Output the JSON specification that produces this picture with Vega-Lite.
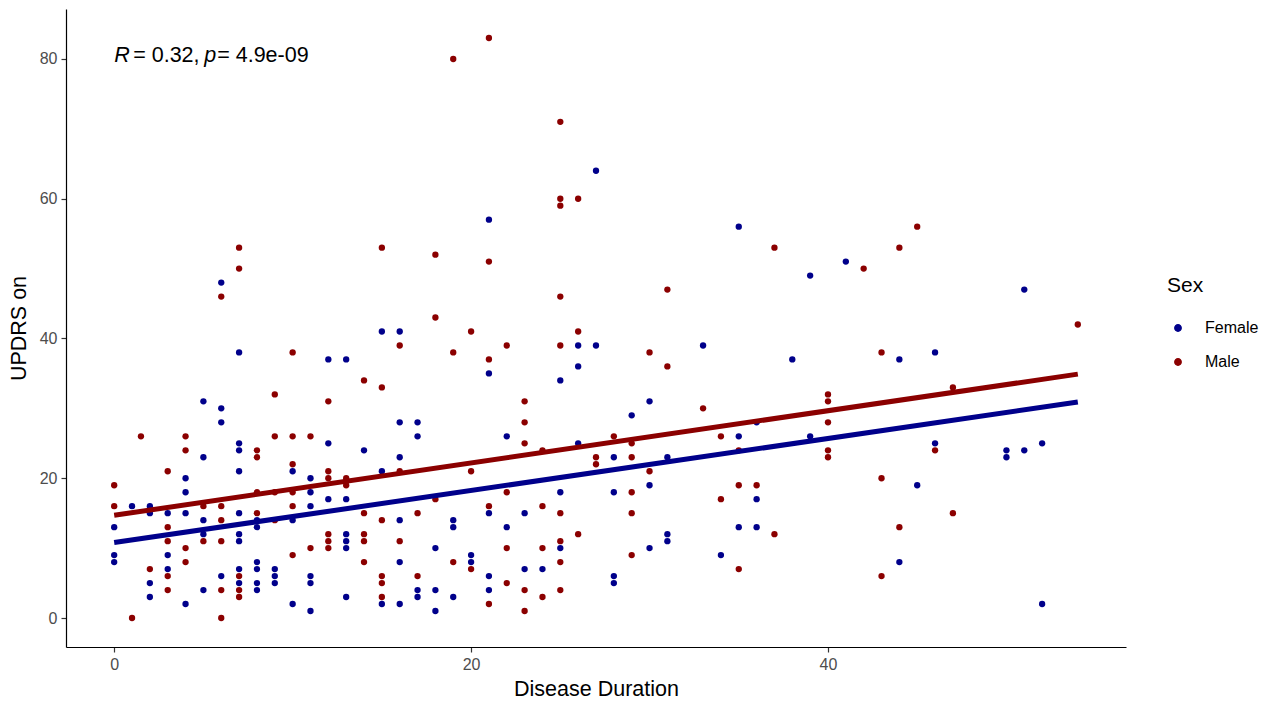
{
  "$schema": "https://vega.github.io/schema/vega-lite/v6.json",
  "width": 1060,
  "height": 638,
  "autosize": {"type": "none"},
  "padding": {"left": 66, "top": 9, "right": 151, "bottom": 56},
  "background": "white",
  "config": {
    "view": {"stroke": null},
    "font": "Liberation Sans",
    "axis": {
      "grid": false,
      "domainColor": "black",
      "domainWidth": 1.2,
      "tickColor": "#333333",
      "tickSize": 5,
      "tickWidth": 1.2,
      "labelColor": "#4D4D4D",
      "labelFontSize": 16,
      "labelFont": "Liberation Sans",
      "titleFont": "Liberation Sans",
      "titleFontSize": 21.5,
      "titleFontWeight": "normal",
      "titleColor": "black"
    }
  },
  "datasets": {
    "pts": [
      {"duration":0,"updrs":19,"sex":"Male"},{"duration":0,"updrs":16,"sex":"Male"},{"duration":0,"updrs":13,"sex":"Female"},{"duration":0,"updrs":9,"sex":"Female"},{"duration":0,"updrs":8,"sex":"Female"},
      {"duration":1,"updrs":16,"sex":"Female"},{"duration":1,"updrs":0,"sex":"Male"},{"duration":1.5,"updrs":26,"sex":"Male"},
      {"duration":2,"updrs":16,"sex":"Female"},{"duration":2,"updrs":15,"sex":"Female"},{"duration":2,"updrs":7,"sex":"Male"},{"duration":2,"updrs":5,"sex":"Female"},{"duration":2,"updrs":3,"sex":"Female"},
      {"duration":3,"updrs":21,"sex":"Male"},{"duration":3,"updrs":15,"sex":"Female"},{"duration":3,"updrs":13,"sex":"Male"},{"duration":3,"updrs":11,"sex":"Male"},{"duration":3,"updrs":9,"sex":"Female"},{"duration":3,"updrs":7,"sex":"Female"},{"duration":3,"updrs":6,"sex":"Male"},{"duration":3,"updrs":4,"sex":"Male"},
      {"duration":4,"updrs":26,"sex":"Male"},{"duration":4,"updrs":24,"sex":"Male"},{"duration":4,"updrs":20,"sex":"Female"},{"duration":4,"updrs":18,"sex":"Female"},{"duration":4,"updrs":15,"sex":"Female"},{"duration":4,"updrs":10,"sex":"Male"},{"duration":4,"updrs":8,"sex":"Male"},{"duration":4,"updrs":2,"sex":"Female"},
      {"duration":5,"updrs":31,"sex":"Female"},{"duration":5,"updrs":23,"sex":"Female"},{"duration":5,"updrs":16,"sex":"Male"},{"duration":5,"updrs":14,"sex":"Female"},{"duration":5,"updrs":12,"sex":"Female"},{"duration":5,"updrs":11,"sex":"Male"},{"duration":5,"updrs":4,"sex":"Female"},
      {"duration":6,"updrs":48,"sex":"Female"},{"duration":6,"updrs":46,"sex":"Male"},{"duration":6,"updrs":30,"sex":"Female"},{"duration":6,"updrs":28,"sex":"Female"},{"duration":6,"updrs":16,"sex":"Male"},{"duration":6,"updrs":14,"sex":"Male"},{"duration":6,"updrs":11,"sex":"Male"},{"duration":6,"updrs":6,"sex":"Female"},{"duration":6,"updrs":4,"sex":"Male"},{"duration":6,"updrs":0,"sex":"Male"},
      {"duration":7,"updrs":53,"sex":"Male"},{"duration":7,"updrs":50,"sex":"Male"},{"duration":7,"updrs":38,"sex":"Female"},{"duration":7,"updrs":25,"sex":"Female"},{"duration":7,"updrs":24,"sex":"Female"},{"duration":7,"updrs":21,"sex":"Female"},{"duration":7,"updrs":15,"sex":"Female"},{"duration":7,"updrs":12,"sex":"Female"},{"duration":7,"updrs":11,"sex":"Female"},{"duration":7,"updrs":7,"sex":"Female"},{"duration":7,"updrs":6,"sex":"Male"},{"duration":7,"updrs":5,"sex":"Female"},{"duration":7,"updrs":4,"sex":"Male"},{"duration":7,"updrs":3,"sex":"Male"},
      {"duration":8,"updrs":24,"sex":"Male"},{"duration":8,"updrs":23,"sex":"Male"},{"duration":8,"updrs":18,"sex":"Male"},{"duration":8,"updrs":15,"sex":"Male"},{"duration":8,"updrs":14,"sex":"Female"},{"duration":8,"updrs":13,"sex":"Female"},{"duration":8,"updrs":8,"sex":"Female"},{"duration":8,"updrs":7,"sex":"Female"},{"duration":8,"updrs":5,"sex":"Female"},{"duration":8,"updrs":4,"sex":"Female"},
      {"duration":9,"updrs":32,"sex":"Male"},{"duration":9,"updrs":26,"sex":"Male"},{"duration":9,"updrs":18,"sex":"Male"},{"duration":9,"updrs":14,"sex":"Male"},{"duration":9,"updrs":7,"sex":"Female"},{"duration":9,"updrs":6,"sex":"Female"},{"duration":9,"updrs":5,"sex":"Female"},
      {"duration":10,"updrs":38,"sex":"Male"},{"duration":10,"updrs":26,"sex":"Male"},{"duration":10,"updrs":22,"sex":"Male"},{"duration":10,"updrs":21,"sex":"Female"},{"duration":10,"updrs":18,"sex":"Male"},{"duration":10,"updrs":16,"sex":"Male"},{"duration":10,"updrs":14,"sex":"Female"},{"duration":10,"updrs":9,"sex":"Male"},{"duration":10,"updrs":2,"sex":"Female"},
      {"duration":11,"updrs":26,"sex":"Male"},{"duration":11,"updrs":20,"sex":"Female"},{"duration":11,"updrs":18,"sex":"Female"},{"duration":11,"updrs":16,"sex":"Female"},{"duration":11,"updrs":10,"sex":"Male"},{"duration":11,"updrs":6,"sex":"Female"},{"duration":11,"updrs":5,"sex":"Female"},{"duration":11,"updrs":1,"sex":"Female"},
      {"duration":12,"updrs":37,"sex":"Female"},{"duration":12,"updrs":31,"sex":"Male"},{"duration":12,"updrs":25,"sex":"Female"},{"duration":12,"updrs":21,"sex":"Male"},{"duration":12,"updrs":20,"sex":"Male"},{"duration":12,"updrs":17,"sex":"Female"},{"duration":12,"updrs":12,"sex":"Male"},{"duration":12,"updrs":11,"sex":"Male"},{"duration":12,"updrs":10,"sex":"Male"},
      {"duration":13,"updrs":37,"sex":"Female"},{"duration":13,"updrs":20,"sex":"Male"},{"duration":13,"updrs":19,"sex":"Male"},{"duration":13,"updrs":17,"sex":"Female"},{"duration":13,"updrs":12,"sex":"Female"},{"duration":13,"updrs":11,"sex":"Female"},{"duration":13,"updrs":10,"sex":"Female"},{"duration":13,"updrs":3,"sex":"Female"},
      {"duration":14,"updrs":34,"sex":"Male"},{"duration":14,"updrs":24,"sex":"Female"},{"duration":14,"updrs":15,"sex":"Male"},{"duration":14,"updrs":12,"sex":"Male"},{"duration":14,"updrs":11,"sex":"Male"},{"duration":14,"updrs":8,"sex":"Male"},
      {"duration":15,"updrs":53,"sex":"Male"},{"duration":15,"updrs":41,"sex":"Female"},{"duration":15,"updrs":33,"sex":"Male"},{"duration":15,"updrs":21,"sex":"Female"},{"duration":15,"updrs":14,"sex":"Male"},{"duration":15,"updrs":6,"sex":"Male"},{"duration":15,"updrs":5,"sex":"Male"},{"duration":15,"updrs":3,"sex":"Male"},{"duration":15,"updrs":2,"sex":"Female"},
      {"duration":16,"updrs":41,"sex":"Female"},{"duration":16,"updrs":39,"sex":"Male"},{"duration":16,"updrs":28,"sex":"Female"},{"duration":16,"updrs":23,"sex":"Female"},{"duration":16,"updrs":21,"sex":"Male"},{"duration":16,"updrs":14,"sex":"Female"},{"duration":16,"updrs":11,"sex":"Male"},{"duration":16,"updrs":8,"sex":"Female"},{"duration":16,"updrs":2,"sex":"Female"},
      {"duration":17,"updrs":28,"sex":"Female"},{"duration":17,"updrs":26,"sex":"Female"},{"duration":17,"updrs":15,"sex":"Male"},{"duration":17,"updrs":6,"sex":"Male"},{"duration":17,"updrs":4,"sex":"Female"},{"duration":17,"updrs":3,"sex":"Female"},
      {"duration":18,"updrs":52,"sex":"Male"},{"duration":18,"updrs":43,"sex":"Male"},{"duration":18,"updrs":17,"sex":"Male"},{"duration":18,"updrs":10,"sex":"Female"},{"duration":18,"updrs":4,"sex":"Female"},{"duration":18,"updrs":1,"sex":"Female"},
      {"duration":19,"updrs":80,"sex":"Male"},{"duration":19,"updrs":38,"sex":"Male"},{"duration":19,"updrs":14,"sex":"Female"},{"duration":19,"updrs":13,"sex":"Female"},{"duration":19,"updrs":8,"sex":"Male"},{"duration":19,"updrs":3,"sex":"Female"},
      {"duration":20,"updrs":41,"sex":"Male"},{"duration":20,"updrs":21,"sex":"Male"},{"duration":20,"updrs":9,"sex":"Female"},{"duration":20,"updrs":8,"sex":"Female"},{"duration":20,"updrs":7,"sex":"Male"},
      {"duration":21,"updrs":83,"sex":"Male"},{"duration":21,"updrs":57,"sex":"Female"},{"duration":21,"updrs":51,"sex":"Male"},{"duration":21,"updrs":37,"sex":"Male"},{"duration":21,"updrs":35,"sex":"Female"},{"duration":21,"updrs":16,"sex":"Male"},{"duration":21,"updrs":15,"sex":"Female"},{"duration":21,"updrs":6,"sex":"Female"},{"duration":21,"updrs":4,"sex":"Female"},{"duration":21,"updrs":2,"sex":"Male"},
      {"duration":22,"updrs":39,"sex":"Male"},{"duration":22,"updrs":26,"sex":"Female"},{"duration":22,"updrs":18,"sex":"Male"},{"duration":22,"updrs":13,"sex":"Female"},{"duration":22,"updrs":10,"sex":"Male"},{"duration":22,"updrs":5,"sex":"Male"},
      {"duration":23,"updrs":31,"sex":"Male"},{"duration":23,"updrs":28,"sex":"Male"},{"duration":23,"updrs":25,"sex":"Male"},{"duration":23,"updrs":15,"sex":"Female"},{"duration":23,"updrs":7,"sex":"Female"},{"duration":23,"updrs":4,"sex":"Male"},{"duration":23,"updrs":1,"sex":"Male"},
      {"duration":24,"updrs":24,"sex":"Male"},{"duration":24,"updrs":16,"sex":"Male"},{"duration":24,"updrs":10,"sex":"Male"},{"duration":24,"updrs":7,"sex":"Female"},{"duration":24,"updrs":3,"sex":"Male"},
      {"duration":25,"updrs":71,"sex":"Male"},{"duration":25,"updrs":60,"sex":"Male"},{"duration":25,"updrs":59,"sex":"Male"},{"duration":25,"updrs":46,"sex":"Male"},{"duration":25,"updrs":39,"sex":"Male"},{"duration":25,"updrs":34,"sex":"Female"},{"duration":25,"updrs":18,"sex":"Female"},{"duration":25,"updrs":15,"sex":"Male"},{"duration":25,"updrs":11,"sex":"Male"},{"duration":25,"updrs":10,"sex":"Female"},{"duration":25,"updrs":8,"sex":"Male"},{"duration":25,"updrs":4,"sex":"Male"},
      {"duration":26,"updrs":60,"sex":"Male"},{"duration":26,"updrs":41,"sex":"Male"},{"duration":26,"updrs":39,"sex":"Female"},{"duration":26,"updrs":36,"sex":"Female"},{"duration":26,"updrs":25,"sex":"Female"},{"duration":26,"updrs":12,"sex":"Male"},
      {"duration":27,"updrs":64,"sex":"Female"},{"duration":27,"updrs":39,"sex":"Female"},{"duration":27,"updrs":23,"sex":"Male"},{"duration":27,"updrs":22,"sex":"Male"},
      {"duration":28,"updrs":26,"sex":"Male"},{"duration":28,"updrs":23,"sex":"Female"},{"duration":28,"updrs":18,"sex":"Female"},{"duration":28,"updrs":6,"sex":"Female"},{"duration":28,"updrs":5,"sex":"Female"},
      {"duration":29,"updrs":29,"sex":"Female"},{"duration":29,"updrs":25,"sex":"Male"},{"duration":29,"updrs":23,"sex":"Male"},{"duration":29,"updrs":18,"sex":"Male"},{"duration":29,"updrs":15,"sex":"Male"},{"duration":29,"updrs":9,"sex":"Male"},
      {"duration":30,"updrs":38,"sex":"Male"},{"duration":30,"updrs":31,"sex":"Female"},{"duration":30,"updrs":21,"sex":"Male"},{"duration":30,"updrs":19,"sex":"Female"},{"duration":30,"updrs":10,"sex":"Female"},
      {"duration":31,"updrs":47,"sex":"Male"},{"duration":31,"updrs":36,"sex":"Male"},{"duration":31,"updrs":23,"sex":"Female"},{"duration":31,"updrs":12,"sex":"Female"},{"duration":31,"updrs":11,"sex":"Female"},
      {"duration":33,"updrs":39,"sex":"Female"},{"duration":33,"updrs":30,"sex":"Male"},
      {"duration":34,"updrs":26,"sex":"Male"},{"duration":34,"updrs":17,"sex":"Male"},{"duration":34,"updrs":9,"sex":"Female"},
      {"duration":35,"updrs":56,"sex":"Female"},{"duration":35,"updrs":26,"sex":"Female"},{"duration":35,"updrs":24,"sex":"Male"},{"duration":35,"updrs":19,"sex":"Male"},{"duration":35,"updrs":13,"sex":"Female"},{"duration":35,"updrs":7,"sex":"Male"},
      {"duration":36,"updrs":28,"sex":"Female"},{"duration":36,"updrs":19,"sex":"Male"},{"duration":36,"updrs":17,"sex":"Female"},{"duration":36,"updrs":13,"sex":"Female"},
      {"duration":37,"updrs":53,"sex":"Male"},{"duration":37,"updrs":12,"sex":"Male"},
      {"duration":38,"updrs":37,"sex":"Female"},
      {"duration":39,"updrs":49,"sex":"Female"},{"duration":39,"updrs":26,"sex":"Female"},
      {"duration":40,"updrs":32,"sex":"Male"},{"duration":40,"updrs":31,"sex":"Male"},{"duration":40,"updrs":28,"sex":"Male"},{"duration":40,"updrs":24,"sex":"Male"},{"duration":40,"updrs":23,"sex":"Male"},
      {"duration":41,"updrs":51,"sex":"Female"},
      {"duration":42,"updrs":50,"sex":"Male"},
      {"duration":43,"updrs":38,"sex":"Male"},{"duration":43,"updrs":20,"sex":"Male"},{"duration":43,"updrs":6,"sex":"Male"},
      {"duration":44,"updrs":53,"sex":"Male"},{"duration":44,"updrs":37,"sex":"Female"},{"duration":44,"updrs":13,"sex":"Male"},{"duration":44,"updrs":8,"sex":"Female"},
      {"duration":45,"updrs":56,"sex":"Male"},{"duration":45,"updrs":19,"sex":"Female"},
      {"duration":46,"updrs":38,"sex":"Female"},{"duration":46,"updrs":25,"sex":"Female"},{"duration":46,"updrs":24,"sex":"Male"},
      {"duration":47,"updrs":33,"sex":"Male"},{"duration":47,"updrs":15,"sex":"Male"},
      {"duration":50,"updrs":24,"sex":"Female"},{"duration":50,"updrs":23,"sex":"Female"},
      {"duration":51,"updrs":47,"sex":"Female"},{"duration":51,"updrs":24,"sex":"Female"},
      {"duration":52,"updrs":25,"sex":"Female"},{"duration":52,"updrs":2,"sex":"Female"},
      {"duration":54,"updrs":42,"sex":"Male"}
    ],
    "fit": [
      {"duration":0,"updrs":10.8,"sex":"Female"},{"duration":54,"updrs":30.9,"sex":"Female"},
      {"duration":0,"updrs":14.7,"sex":"Male"},{"duration":54,"updrs":34.9,"sex":"Male"}
    ],
    "ann": [{"duration":0,"updrs":80}]
  },
  "layer": [
    {
      "data": {"name": "pts"},
      "mark": {"type": "circle", "size": 40, "opacity": 1},
      "encoding": {
        "x": {"field": "duration", "type": "quantitative", "title": "Disease Duration",
              "scale": {"domain": [-2.7, 56.7], "nice": false, "zero": false},
              "axis": {"values": [0, 20, 40], "labelPadding": 4, "titlePadding": 6, "labelFlush": false}},
        "y": {"field": "updrs", "type": "quantitative", "title": "UPDRS on",
              "scale": {"domain": [-4.15, 87.15], "nice": false, "zero": false},
              "axis": {"values": [0, 20, 40, 60, 80], "labelPadding": 4, "titlePadding": 9, "labelFlush": false}},
        "color": {"field": "sex", "type": "nominal",
                  "scale": {"domain": ["Female", "Male"], "range": ["#00008B", "#8B0000"]},
                  "legend": {"title": "Sex", "orient": "none", "legendX": 1101, "legendY": 266,
                             "symbolType": "circle", "symbolSize": 40, "symbolOffset": 3,
                             "titleFontSize": 21, "titleFontWeight": "normal", "titleColor": "black",
                             "titlePadding": 24, "labelFontSize": 16, "labelColor": "black",
                             "labelOffset": 19, "rowPadding": 18, "titleFont": "Liberation Sans", "labelFont": "Liberation Sans"}}
      }
    },
    {
      "data": {"name": "fit"},
      "mark": {"type": "line", "strokeWidth": 5},
      "encoding": {
        "x": {"field": "duration", "type": "quantitative"},
        "y": {"field": "updrs", "type": "quantitative"},
        "color": {"field": "sex", "type": "nominal", "legend": null}
      }
    },
    {
      "data": {"name": "ann"},
      "mark": {"type": "text", "text": "R", "fontStyle": "italic", "fontSize": 21.5, "align": "left", "baseline": "alphabetic", "dy": 3, "color": "black"},
      "encoding": {"x": {"field": "duration", "type": "quantitative"}, "y": {"field": "updrs", "type": "quantitative"}}
    },
    {
      "data": {"name": "ann"},
      "mark": {"type": "text", "text": "= 0.32,", "fontSize": 21.5, "align": "left", "baseline": "alphabetic", "dx": 19, "dy": 3, "color": "black"},
      "encoding": {"x": {"field": "duration", "type": "quantitative"}, "y": {"field": "updrs", "type": "quantitative"}}
    },
    {
      "data": {"name": "ann"},
      "mark": {"type": "text", "text": "p", "fontStyle": "italic", "fontSize": 21.5, "align": "left", "baseline": "alphabetic", "dx": 90, "dy": 3, "color": "black"},
      "encoding": {"x": {"field": "duration", "type": "quantitative"}, "y": {"field": "updrs", "type": "quantitative"}}
    },
    {
      "data": {"name": "ann"},
      "mark": {"type": "text", "text": "= 4.9e-09", "fontSize": 21.5, "align": "left", "baseline": "alphabetic", "dx": 103, "dy": 3, "color": "black"},
      "encoding": {"x": {"field": "duration", "type": "quantitative"}, "y": {"field": "updrs", "type": "quantitative"}}
    }
  ]
}
